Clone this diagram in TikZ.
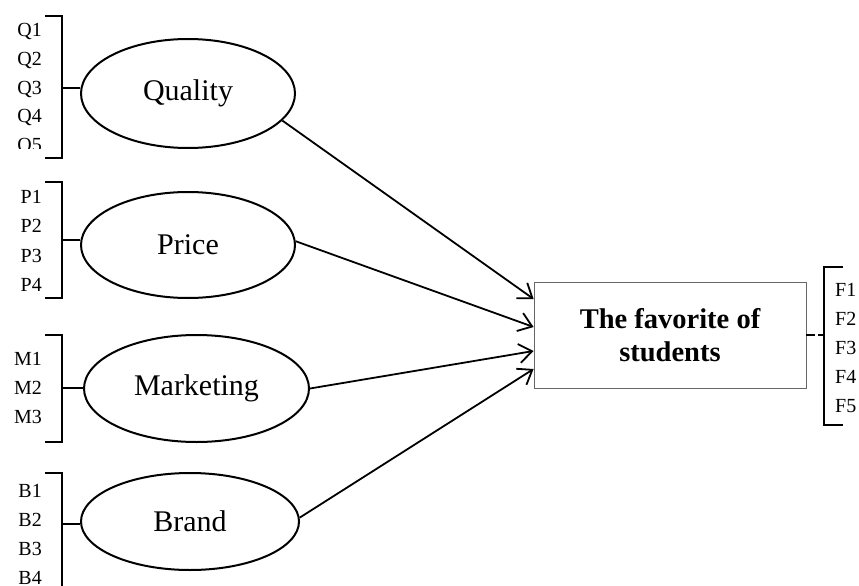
\documentclass[tikz,border=0pt]{standalone}
\usepackage{fontspec}
\setmainfont{Liberation Serif}
\usetikzlibrary{shapes.geometric,arrows.meta,calc}

\begin{document}
\begin{tikzpicture}[x=1pt,y=-1pt,>={Straight Barb[length=13pt,width=19pt]}]

    % Styles
    \tikzset{
        factor/.style={ellipse, draw=black, line width=2pt, inner sep=0pt, font=\fontsize{30}{36}\selectfont},
        outcome/.style={rectangle, draw=black!60, line width=0.8pt, minimum width=272pt, minimum height=106pt, align=center, font=\fontsize{28.5}{33}\selectfont\bfseries},
        bracket/.style={line width=2.2pt},
        item/.style={inner sep=0pt, font=\fontsize{20}{24}\selectfont},
        effect/.style={->, line width=1.8pt}
    }

    \useasboundingbox (0,0) rectangle (859,586);

    % Factors
    \node[factor, minimum width=214pt, minimum height=109pt] (Q) at (188,93.5) {Quality};
    \node[factor, minimum width=214pt, minimum height=106pt] (P) at (188,245) {Price};
    \node[factor, minimum width=225pt, minimum height=107pt] (M) at (196.5,388.5) {Marketing};
    \node[factor, minimum width=218pt, minimum height=97pt] (B) at (190,521.5) {Brand};

    % Outcome box
    \node[outcome] (F) at (670,335) {The favorite of\\students};

    % Items of each factor
    \draw[bracket] (45,16) -- (62,16) -- (62,158) -- (45,158);
    \coordinate (qt) at (62,88);
    \draw[bracket] (qt) -- (qt -| Q.west);
    \foreach \lab [count=\k from 0] in {Q1,Q2,Q3,Q4}
        \node[item, anchor=base east] at (42,{37+28.5*\k}) {\lab};
    \begin{scope}
        \clip (0,130) rectangle (60,148);
        \node[item, anchor=base east] at (42,151) {Q5};
    \end{scope}

    \draw[bracket] (45,182) -- (62,182) -- (62,298) -- (45,298);
    \coordinate (pt) at (62,240);
    \draw[bracket] (pt) -- (pt -| P.west);
    \foreach \lab [count=\k from 0] in {P1,P2,P3,P4}
        \node[item, anchor=base east] at (42,{203+29.5*\k}) {\lab};

    \draw[bracket] (45,335) -- (62,335) -- (62,442) -- (45,442);
    \coordinate (mt) at (62,388);
    \draw[bracket] (mt) -- (mt -| M.west);
    \foreach \lab [count=\k from 0] in {M1,M2,M3}
        \node[item, anchor=base east] at (42,{365+29*\k}) {\lab};

    \draw[bracket] (45,473) -- (62,473) -- (62,592);
    \coordinate (bt) at (62,524);
    \draw[bracket] (bt) -- (bt -| B.west);
    \foreach \lab [count=\k from 0] in {B1,B2,B3,B4}
        \node[item, anchor=base east] at (42,{497+29*\k}) {\lab};

    % Items of the outcome
    \draw[bracket] (843,267) -- (824,267) -- (824,425) -- (843,425);
    \coordinate (ft) at (824,335);
    \draw[bracket, dash pattern=on 9pt off 3pt] (F.east) -- (ft);
    \foreach \lab [count=\k from 0] in {F1,F2,F3,F4,F5}
        \node[item, anchor=base west] at (835,{296+29.2*\k}) {\lab};

    % Arrow ends on the box
    \coordinate (t1) at ($(F.west)+(0,-36)$);
    \coordinate (t2) at ($(F.west)+(0,-8)$);
    \coordinate (t3) at ($(F.west)+(0,16)$);
    \coordinate (t4) at ($(F.west)+(0,34)$);

    % Effects
    \draw[effect] (Q.-16) -- (t1);
    \draw[effect] (P.2) -- (t2);
    \draw[effect] (M.east) -- (t3);
    \draw[effect] (B.2) -- (t4);

\end{tikzpicture}
\end{document}
